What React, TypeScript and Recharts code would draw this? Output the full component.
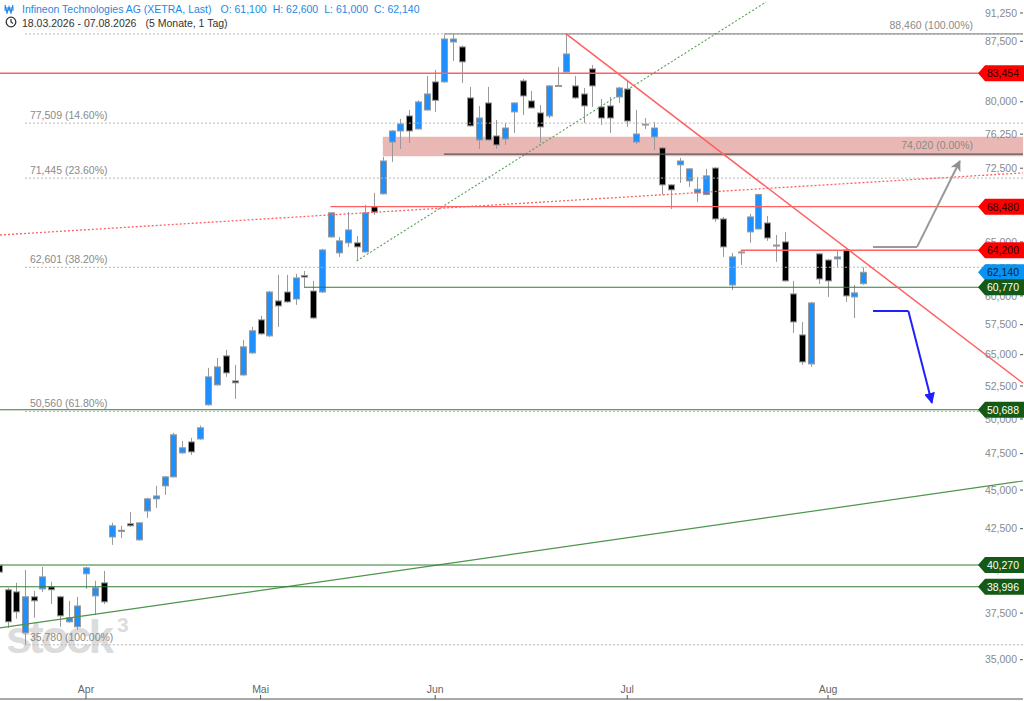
import React from "react";
import { Bar, ComposedChart, ReferenceArea, ReferenceDot, ReferenceLine, XAxis, YAxis } from "recharts";

// XETRA trading days in the window, per month (2026)
const marchDays = [18, 19, 20, 23, 24, 25, 26, 27, 30, 31];
const aprilDays = [1, 2, 7, 8, 9, 10, 13, 14, 15, 16, 17, 20, 21, 22, 23, 24, 27, 28, 29, 30];
const mayDays = [4, 5, 6, 7, 8, 11, 12, 13, 14, 15, 18, 19, 20, 21, 22, 25, 26, 27, 28, 29];
const juneDays = [1, 2, 3, 4, 5, 8, 9, 10, 11, 12, 15, 16, 17, 18, 19, 22, 23, 24, 25, 26, 29, 30];
const julyDays = [1, 2, 3, 6, 7, 8, 9, 10, 13, 14, 15, 16, 17, 20, 21, 22, 23, 24, 27, 28, 29, 30, 31];
const augustDays = [3, 4, 5, 6, 7];

const monthGroups = [marchDays, aprilDays, mayDays, juneDays, julyDays, augustDays];
const monthLabels = ["Apr", "Mai", "Jun", "Jul", "Aug"];

const opens = [
  40.25, 38.82, 38.7, 36.42, 38.42, 38.87, 38.99, 38.42, 37.02, 36.75,
  39.75, 38.47, 39.22, 41.98, 42.4, 42.81, 41.8, 43.63, 44.42, 45.28,
  45.89, 47.55, 48.33, 48.54, 51.06, 52.59, 54.9, 52.9, 53.37, 55.14,
  57.91, 56.55, 59.56, 60.35, 59.73, 61.85, 60.44, 60.35, 65.48, 63.95,
  64.91, 64.91, 64.04, 68.46, 69.8, 75.37, 76.61, 78.34, 76.84, 79.03,
  82.39, 82.39, 87.41, 86.77, 80.46, 75.6, 79.86, 76.05, 75.71, 78.81,
  82.51, 80.1, 78.69, 78.34, 81.95, 83.61, 81.9, 80.93, 83.99, 79.39,
  79.51, 80.57, 81.53, 75.37, 77.4, 75.94, 74.71, 70.73, 72.86, 71.15,
  69.89, 69.73, 72.52, 67.25, 60.98, 64.04, 65.97, 66.26, 66.85, 64.7,
  65.0, 60.18, 56.63, 54.25, 63.86, 63.28, 63.38, 64.23, 59.91, 61.1,
];
const highs = [
  40.6, 38.93, 39.22, 39.98, 38.76, 40.16, 39.28, 38.48, 38.19, 38.42,
  40.16, 39.34, 39.92, 42.87, 42.68, 43.56, 42.9, 44.49, 45.28, 45.95,
  48.98, 48.4, 48.62, 49.52, 53.93, 54.73, 55.39, 54.17, 56.22, 57.31,
  58.25, 60.44, 61.9, 61.9, 61.99, 62.26, 61.35, 64.33, 67.94, 65.48,
  67.94, 65.57, 68.66, 69.89, 73.72, 76.7, 77.99, 79.03, 80.17, 83.12,
  83.86, 88.3, 88.4, 86.95, 81.78, 79.51, 81.78, 77.87, 77.54, 79.9,
  82.76, 81.3, 79.62, 82.0, 84.23, 88.46, 83.12, 81.65, 84.49, 80.33,
  80.57, 81.78, 82.63, 79.03, 78.1, 77.65, 74.82, 70.8, 73.61, 72.52,
  71.57, 72.43, 72.6, 67.45, 63.95, 64.23, 67.75, 69.81, 67.55, 65.67,
  65.97, 61.35, 57.73, 59.47, 63.95, 63.38, 64.14, 64.43, 60.98, 62.6,
];
const lows = [
  39.5, 36.69, 37.19, 35.78, 37.24, 38.7, 38.01, 36.75, 36.97, 36.58,
  38.87, 37.4, 38.01, 41.49, 41.92, 42.62, 41.75, 43.18, 43.83, 44.68,
  45.85, 47.48, 47.41, 48.47, 51.0, 52.55, 53.22, 51.51, 53.3, 55.06,
  56.64, 56.47, 57.31, 59.38, 59.21, 60.72, 58.0, 60.26, 65.4, 63.57,
  64.52, 63.19, 64.0, 67.65, 69.73, 73.18, 74.6, 75.26, 76.8, 78.95,
  78.81, 82.3, 84.99, 82.26, 77.1, 74.6, 75.5, 74.6, 75.04, 76.38,
  78.45, 79.2, 75.26, 78.1, 81.78, 83.55, 80.33, 77.53, 79.39, 77.3,
  76.38, 79.86, 77.07, 75.15, 76.84, 74.49, 69.73, 68.25, 70.94, 70.51,
  68.97, 69.65, 66.95, 63.57, 60.53, 62.82, 64.91, 66.2, 65.1, 63.1,
  61.3, 56.8, 54.17, 54.01, 61.07, 59.91, 62.54, 59.47, 58.07, 61.0,
];
const closes = [
  39.85, 37.02, 37.57, 38.42, 38.19, 39.57, 38.82, 37.35, 37.24, 37.9,
  40.1, 38.93, 38.13, 42.68, 42.33, 42.68, 42.87, 44.42, 44.61, 45.89,
  48.84, 47.91, 47.62, 49.35, 53.22, 54.01, 53.53, 52.75, 55.64, 56.98,
  56.72, 60.35, 59.12, 59.47, 61.62, 61.7, 58.07, 64.23, 67.86, 65.1,
  66.16, 64.52, 67.86, 67.94, 73.28, 76.61, 77.42, 76.61, 79.98, 80.93,
  80.17, 87.8, 87.8, 84.87, 77.19, 78.1, 75.6, 75.04, 76.95, 79.86,
  80.69, 79.27, 77.07, 81.9, 81.9, 85.87, 80.46, 79.51, 81.9, 78.1,
  78.1, 81.65, 77.75, 76.27, 77.3, 76.95, 70.73, 70.21, 73.28, 72.43,
  70.28, 71.68, 67.25, 64.52, 63.57, 63.95, 67.45, 69.73, 65.38, 64.6,
  61.35, 57.73, 54.41, 59.38, 61.53, 61.35, 63.57, 60.0, 60.27, 62.14,
];

// price axis
const yTicks = [35, 37.5, 40, 42.5, 45, 47.5, 50, 52.5, 55, 57.5, 60, 62.5, 65, 68.75, 72.5, 76.25, 80, 83.75, 87.5, 91.25];
const yTickLabels = [
  "35,000", "37,500", "40,000", "42,500", "45,000", "47,500", "50,000", "52,500", "65,000", "57,500",
  "60,000", "62,500", "65,000", "68,750", "72,500", "76,250", "80,000", "83,750", "87,500", "91,250",
];
const Y_MIN = 33.02;
const Y_MAX = 93.02;
const X_MIN = 0.15;
const X_MAX = 117.33;

// Fibonacci retracements
const fibLeftLevels = [88.46, 77.509, 71.445, 62.601, 50.56, 35.78];
const fibLeftPcts = ["0.00%", "14.60%", "23.60%", "38.20%", "61.80%", "100.00%"];
const fibLeftStart = 3;
const fibRightLevels = [88.46, 74.02];
const fibRightPcts = ["100.00%", "0.00%"];
const fibRightStart = 51;

// horizontal marks
const resistanceLevels = [83.454, 68.48, 64.2];
const resistanceStarts = [X_MIN, 38, 85];
const supportLevels = [60.77, 50.688, 40.27, 38.996];
const supportStarts = [35, X_MIN, X_MIN, X_MIN];
const zoneRange = [73.8, 75.95];
const zoneStart = 44;

// trend lines and arrows (index, price)
const downTrend = [{ x: 65, y: 88.46 }, { x: X_MAX, y: 52.72 }];
const dottedUpTrend = [{ x: 41, y: 63.19 }, { x: 87.9, y: 92.75 }];
const longUpTrend = [{ x: X_MIN, y: 36.69 }, { x: X_MAX, y: 45.61 }];
const dottedRedTrend = [{ x: X_MIN, y: 65.67 }, { x: X_MAX, y: 72.0 }];
const greyArrow = [{ x: 100.15, y: 64.52 }, { x: 105.2, y: 64.52 }, { x: 110.1, y: 73.28 }];
const blueArrow = [{ x: 100.15, y: 58.68 }, { x: 104.2, y: 58.68 }, { x: 106.9, y: 51.21 }];

function dayLabel(d: number, m: number) {
  return `${String(d).padStart(2, "0")}.${String(m).padStart(2, "0")}.2026`;
}

const dates = monthGroups.flatMap((g, k) => g.map((d) => dayLabel(d, k + 3)));
const monthTicks = monthLabels.map((_, k) => monthGroups.slice(0, k + 1).reduce((s, g) => s + g.length, 0));

const data = dates.map((date, i) => ({
  i,
  date,
  open: opens[i],
  high: highs[i],
  low: lows[i],
  close: closes[i],
}));

const fmt = (v: number) => v.toFixed(3).replace(".", ",");
const last = data.length - 1;

const FONT = "'Liberation Sans', Arial, sans-serif";
const RED = "#ff6060";
const GREEN = "#2f7d32";
const CHART_W = 1024;
const CHART_H = 701;
const MARGIN = { top: 0, right: 1, bottom: 2, left: 0 };

function Candle(props: any) {
  const { x, y, width, height, payload } = props;
  if (height == null || !payload) return null;
  const { open, close, high, low } = payload;
  const lh = Math.log(high);
  const span = lh - Math.log(low) || 1;
  const py = (v: number) => y + (height * (lh - Math.log(v))) / span;
  const cx = Math.round(x + width / 2) + 0.5;
  const top = py(Math.max(open, close));
  const bot = py(Math.min(open, close));
  return (
    <g>
      <line x1={cx} x2={cx} y1={y} y2={y + height} stroke="#999" strokeWidth={1} />
      <rect
        x={cx - 3}
        y={top}
        width={6}
        height={Math.max(bot - top, 1)}
        fill={close >= open ? "#1e90ff" : "#000"}
        stroke="#9a9a9a"
        strokeWidth={1}
      />
    </g>
  );
}

function PriceTag({ cx, cy, value, bg, fg }: any) {
  return (
    <g>
      <polygon
        points={`${cx - 45},${cy} ${cx - 38},${cy - 8} ${cx + 1},${cy - 8} ${cx + 1},${cy + 8} ${cx - 38},${cy + 8}`}
        fill={bg}
      />
      <text x={cx - 4} y={cy + 4} textAnchor="end" fontSize={10.5} fill={fg} fontFamily={FONT}>
        {fmt(value)}
      </text>
    </g>
  );
}

function FibText({ x, y, text, anchor }: any) {
  return (
    <text x={x} y={y} textAnchor={anchor} fontSize={10.5} fill="#8a8a8a" fontFamily={FONT}>
      {text}
    </text>
  );
}

// shared price/time scales, so the tag layer lines up with the main chart
function scaleAxes(hidden: boolean) {
  return [
    <XAxis
      key="x"
      dataKey="i"
      type="number"
      domain={[X_MIN, X_MAX]}
      allowDataOverflow
      hide={hidden}
      ticks={monthTicks}
      interval={0}
      tickFormatter={(v: number) => monthLabels[monthTicks.indexOf(v)] ?? ""}
      mirror
      tickSize={4}
      tickMargin={2}
      tick={{ fill: "#666", fontSize: 10.5 }}
      axisLine={{ stroke: "#555" }}
      tickLine={{ stroke: "#555" }}
    />,
    <YAxis
      key="y"
      orientation="right"
      mirror
      type="number"
      scale="log"
      domain={[Y_MIN, Y_MAX]}
      allowDataOverflow
      hide={hidden}
      ticks={yTicks}
      interval={0}
      tickFormatter={(v: number) => yTickLabels[yTicks.indexOf(v)] ?? fmt(v)}
      tickSize={3}
      tickMargin={3}
      tick={{ fill: "#8a8a8a", fontSize: 10.5 }}
      axisLine={false}
      tickLine={{ stroke: "#555" }}
    />,
  ];
}

export default function App() {
  return (
    <div style={{ position: "absolute", left: 0, top: 0, width: CHART_W, height: CHART_H, background: "#fff", fontFamily: FONT }}>
      <svg width={0} height={0} style={{ position: "absolute" }}>
        <defs>
          <marker id="headGrey" viewBox="0 0 10 10" refX="9" refY="5" markerWidth="11" markerHeight="11" markerUnits="userSpaceOnUse" orient="auto">
            <path d="M0,0 L10,5 L0,10 L3,5 Z" fill="#8f8f8f" />
          </marker>
          <marker id="headBlue" viewBox="0 0 10 10" refX="9" refY="5" markerWidth="11" markerHeight="11" markerUnits="userSpaceOnUse" orient="auto">
            <path d="M0,0 L10,5 L0,10 Z" fill="#2020ff" />
          </marker>
        </defs>
      </svg>

      <svg width={160} height={70} style={{ position: "absolute", left: 0, top: 595 }}>
        <text x={6} y={58} fontSize={46} fontWeight={700} letterSpacing={-3} fill="#dcdcdc" fontFamily={FONT}>
          stock
        </text>
        <text x={117} y={37} fontSize={21} fontWeight={700} fill="#dcdcdc" fontFamily={FONT}>
          3
        </text>
      </svg>

      <div style={{ position: "absolute", left: 0, top: 0 }}>
        <ComposedChart width={CHART_W} height={CHART_H} data={data} margin={MARGIN}>
          {scaleAxes(false)}

          {fibLeftLevels.map((v) => (
            <ReferenceLine key={`fl${v}`} ifOverflow="visible" segment={[{ x: fibLeftStart, y: v }, { x: X_MAX, y: v }]} stroke="#b5b5b5" strokeDasharray="2 2" />
          ))}
          <ReferenceLine ifOverflow="visible" segment={dottedRedTrend} stroke={RED} strokeDasharray="2 2" strokeWidth={1.3} />
          <ReferenceLine ifOverflow="visible" segment={dottedUpTrend} stroke="#5a9e5a" strokeDasharray="2 2" strokeWidth={1.1} />
          <ReferenceLine ifOverflow="visible" segment={longUpTrend} stroke="#4c944c" strokeWidth={1.2} />
          {resistanceLevels.map((v, k) => (
            <ReferenceLine key={`r${v}`} ifOverflow="visible" segment={[{ x: resistanceStarts[k], y: v }, { x: X_MAX, y: v }]} stroke={RED} strokeWidth={1.3} />
          ))}
          {supportLevels.map((v, k) => (
            <ReferenceLine key={`s${v}`} ifOverflow="visible" segment={[{ x: supportStarts[k], y: v }, { x: X_MAX, y: v }]} stroke={GREEN} strokeWidth={1.1} />
          ))}

          <Bar dataKey={(d: any) => [d.low, d.high]} barSize={7} isAnimationActive={false} shape={(p: any) => <Candle {...p} />} />

          <ReferenceArea ifOverflow="visible" x1={zoneStart} x2={X_MAX} y1={zoneRange[0]} y2={zoneRange[1]} fill="#c54339" fillOpacity={0.38} stroke="none" />
          <ReferenceLine ifOverflow="visible" segment={[{ x: fibRightStart, y: fibRightLevels[0] }, { x: X_MAX, y: fibRightLevels[0] }]} stroke="#7a7a7a" />
          <ReferenceLine ifOverflow="visible" segment={[{ x: fibRightStart, y: fibRightLevels[1] }, { x: X_MAX, y: fibRightLevels[1] }]} stroke="#555" strokeWidth={1.2} />
          <ReferenceLine ifOverflow="visible" segment={downTrend} stroke={RED} strokeWidth={1.5} />

          <ReferenceLine ifOverflow="visible" segment={[greyArrow[0], greyArrow[1]]} stroke="#999" strokeWidth={2} />
          <ReferenceLine ifOverflow="visible" segment={[greyArrow[1], greyArrow[2]]} stroke="#999" strokeWidth={2} markerEnd="url(#headGrey)" />
          <ReferenceLine ifOverflow="visible" segment={[blueArrow[0], blueArrow[1]]} stroke="#2020ff" strokeWidth={2} />
          <ReferenceLine ifOverflow="visible" segment={[blueArrow[1], blueArrow[2]]} stroke="#2020ff" strokeWidth={2} markerEnd="url(#headBlue)" />

          {fibLeftLevels.map((v, k) => (
            <ReferenceDot
              key={`flt${v}`}
              x={fibLeftStart}
              y={v}
              ifOverflow="visible"
              shape={(p: any) => <FibText x={p.cx + 5} y={p.cy - 4} anchor="start" text={`${fmt(v)} (${fibLeftPcts[k]})`} />}
            />
          ))}
          {fibRightLevels.map((v, k) => (
            <ReferenceDot
              key={`frt${v}`}
              x={X_MAX}
              y={v}
              ifOverflow="visible"
              shape={(p: any) => <FibText x={p.cx - 50} y={p.cy - 5} anchor="end" text={`${fmt(v)} (${fibRightPcts[k]})`} />}
            />
          ))}
        </ComposedChart>
      </div>

      {/* price tags sit above the axis labels */}
      <div style={{ position: "absolute", left: 0, top: 0, pointerEvents: "none" }}>
        <ComposedChart width={CHART_W} height={CHART_H} data={data} margin={MARGIN}>
          {scaleAxes(true)}
          {resistanceLevels.map((v) => (
            <ReferenceDot key={`rt${v}`} x={X_MAX} y={v} ifOverflow="visible" shape={(p: any) => <PriceTag cx={p.cx} cy={p.cy} value={v} bg="#ff0000" fg="#2a0000" />} />
          ))}
          <ReferenceDot x={X_MAX} y={closes[last]} ifOverflow="visible" shape={(p: any) => <PriceTag cx={p.cx} cy={p.cy} value={closes[last]} bg="#0a94f2" fg="#08223a" />} />
          {supportLevels.map((v) => (
            <ReferenceDot key={`st${v}`} x={X_MAX} y={v} ifOverflow="visible" shape={(p: any) => <PriceTag cx={p.cx} cy={p.cy} value={v} bg="#145a16" fg="#ffffff" />} />
          ))}
        </ComposedChart>
      </div>

      <div style={{ position: "absolute", left: 0, top: 0, width: 425, height: 32, background: "rgba(255,255,255,0.85)", fontSize: 10.5, whiteSpace: "nowrap" }}>
        <svg width={12} height={10} style={{ position: "absolute", left: 4, top: 4 }}>
          <path d="M1,1 L3,9 L5,3 L7,9 L9,1 M0,4 H10 M0,6 H10" stroke="#1e88e5" strokeWidth={1.2} fill="none" />
        </svg>
        <div style={{ position: "absolute", left: 22, top: 3, color: "#1e88e5" }}>
          Infineon Technologies AG (XETRA, Last)
          <span style={{ marginLeft: 9 }}>O: {fmt(opens[last])}</span>
          <span style={{ marginLeft: 6 }}>H: {fmt(highs[last])}</span>
          <span style={{ marginLeft: 6 }}>L: {fmt(lows[last])}</span>
          <span style={{ marginLeft: 6 }}>C: {fmt(closes[last])}</span>
        </div>
        <svg width={12} height={12} style={{ position: "absolute", left: 5, top: 16 }}>
          <circle cx={6} cy={6} r={4.8} stroke="#333" strokeWidth={1.3} fill="none" />
          <path d="M6,3 V6 L8,7.5" stroke="#333" strokeWidth={1.2} fill="none" />
        </svg>
        <div style={{ position: "absolute", left: 22, top: 16.5, color: "#333" }}>
          {dates[0]} - {dates[last]}
          <span style={{ marginLeft: 9 }}>(5 Monate, 1 Tag)</span>
        </div>
      </div>
    </div>
  );
}
